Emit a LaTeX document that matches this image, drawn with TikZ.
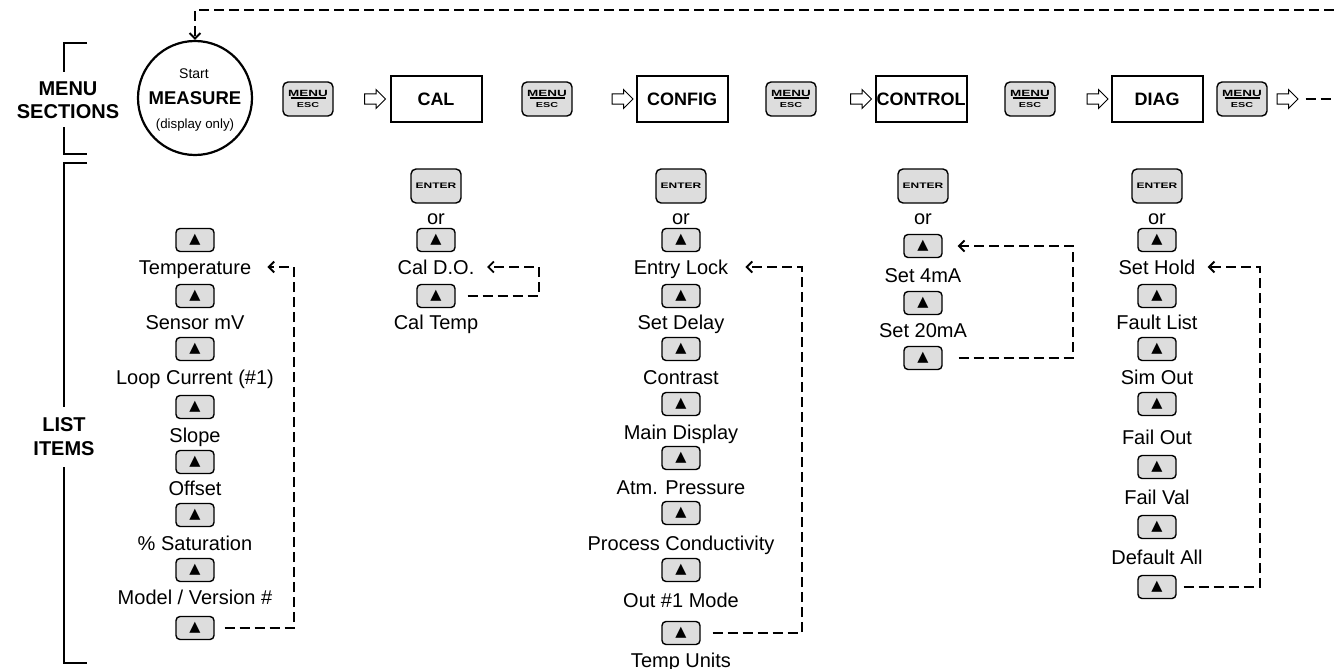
\documentclass[tikz,border=0pt]{standalone}
\usepackage{fontspec}
\setmainfont{Liberation Sans}
\newfontfamily\symfont{DejaVu Sans}
\usepackage{graphicx}
\usetikzlibrary{arrows.meta,positioning,shapes.arrows}
\definecolor{ckey}{RGB}{221,221,221}

% wide bold lettering on the keypad keys
\newcommand{\keytext}[2]{\scalebox{1.5}[1]{\bfseries\fontsize{#1}{#1}\selectfont #2}}
\newcommand{\menuesc}{\keytext{9}{MENU}\\[-3.9pt]\rule{35pt}{2pt}\\[3pt]\keytext{7.2}{ESC}}

\begin{document}
\begin{tikzpicture}[
  x=1pt, y=-1pt,
  key/.style={draw, line width=1.4pt, fill=ckey, rounded corners=5pt, inner sep=0pt},
  menukey/.style={key, minimum width=50pt, minimum height=34pt, align=center, font=\fontsize{6}{6}\selectfont},
  enterkey/.style={key, minimum width=50pt, minimum height=34pt},
  upkey/.style={key, minimum width=38pt, minimum height=23pt, rounded corners=4pt, font=\symfont\fontsize{14.5}{14.5}\selectfont},
  item/.style={font=\fontsize{20}{22}\selectfont, inner sep=0pt, text height=14pt, text depth=0pt},
  secbox/.style={draw, line width=2pt, minimum width=91pt, minimum height=46pt, inner sep=1pt, font=\bfseries\fontsize{18}{20}\selectfont},
  nextar/.style={single arrow, draw, line width=1pt, inner xsep=0pt, inner ysep=4.5pt, minimum height=21pt, single arrow head extend=4.5pt},
  loopline/.style={dash pattern=on 10pt off 5pt, line width=1.9pt, -{Straight Barb[length=5.5pt,width=11pt]}},
  bracket/.style={line width=2.2pt},
  side/.style={font=\bfseries\fontsize{20}{23}\selectfont, align=center, inner sep=0pt},
]
\useasboundingbox (0,0) rectangle (1334,669);

% --- side labels and brackets ---
\node[side] (secl) at (68,100) {MENU\\SECTIONS};
\node[side, font=\bfseries\fontsize{20}{24}\selectfont] (listl) at (64,437) {LIST\\ITEMS};
\draw[bracket] (87,43) -- (64,43) -- (64,72);
\draw[bracket] (64,127) -- (64,154) -- (87,154);
\draw[bracket] (87,163) -- (64,163) -- (64,407);
\draw[bracket] (64,467) -- (64,663) -- (87,663);

% --- menu sections (top row) ---
\node[draw, circle, line width=2.2pt, minimum size=114pt, inner sep=0pt,
      font=\bfseries\fontsize{18.5}{20}\selectfont, text height=13pt, text depth=0pt] (meas) at (195,98) {MEASURE};
\node[font=\fontsize{14}{15}\selectfont, inner sep=0pt, text height=10pt, text depth=0pt] (mstart) at (194,73) {Start};
\node[font=\fontsize{13.3}{14}\selectfont, inner sep=0pt, text height=9.5pt, text depth=3pt] (mdisp) at (195,125) {(display only)};

\node[menukey] (k1) at (308,99) {\menuesc};
\node[nextar] (a1) at (372.5,99) {};
\node[secbox] (cal) at (436,99) {CAL};
\node[menukey] (k2) at (547,99) {\menuesc};
\node[nextar] (a2) at (620,99) {};
\node[secbox] (config) at (682,99) {CONFIG};
\node[menukey] (k3) at (791,99) {\menuesc};
\node[nextar] (a3) at (858.5,99) {};
\node[secbox] (control) at (921,99) {CONTROL};
\node[menukey] (k4) at (1030,99) {\menuesc};
\node[nextar] (a4) at (1095,99) {};
\node[secbox] (diag) at (1157,99) {DIAG};
\node[menukey] (k5) at (1242,99) {\menuesc};
\node[nextar] (a5) at (1285,99) {};

\coordinate (tail) at (1334,99);
\coordinate (ret) at (1334,10);
\draw[dash pattern=on 10pt off 5pt, line width=1.9pt, shorten <=7pt] (a5.east) -- (tail);
\draw[loopline] (ret) -| (meas.north);

% --- MEASURE list ---
\node[upkey] (mk1) at (195,240) {▲};
\node[item] (ml1) at (195,267) {Temperature};
\node[upkey] (mk2) at (195,296) {▲};
\node[item] (ml2) at (195,322) {Sensor mV};
\node[upkey] (mk3) at (195,349) {▲};
\node[item] (ml3) at (195,377) {Loop Current (\#1)};
\node[upkey] (mk4) at (195,407) {▲};
\node[item] (ml4) at (195,435) {Slope};
\node[upkey] (mk5) at (195,462) {▲};
\node[item] (ml5) at (195,488) {Offset};
\node[upkey] (mk6) at (195,515) {▲};
\node[item] (ml6) at (195,543) {\% Saturation};
\node[upkey] (mk7) at (195,570) {▲};
\node[item] (ml7) at (195,597) {Model / Version \#};
\node[upkey] (mk8) at (195,628) {▲};
\draw[loopline, shorten <=10pt, shorten >=16pt] (mk8.east) -- ++(79,0) |- (ml1.east);

% --- CAL list ---
\node[enterkey] (ce) at (436,186) {\keytext{8}{ENTER}};
\node[item] (cor) at (436,217) {or};
\node[upkey] (ck1) at (436,240) {▲};
\node[item] (cl1) at (436,267) {Cal D.O.};
\node[upkey] (ck2) at (436,296) {▲};
\node[item] (cl2) at (436,322) {Cal Temp};
\draw[loopline, shorten <=12pt, shorten >=12.5pt] (ck2.east) -- ++(83,0) |- (cl1.east);

% --- CONFIG list ---
\node[enterkey] (fe) at (681,186) {\keytext{8}{ENTER}};
\node[item] (for) at (681,217) {or};
\node[upkey] (fk1) at (681,240) {▲};
\node[item] (fl1) at (681,267) {Entry Lock};
\node[upkey] (fk2) at (681,296) {▲};
\node[item] (fl2) at (681,322) {Set Delay};
\node[upkey] (fk3) at (681,349) {▲};
\node[item] (fl3) at (681,377) {Contrast};
\node[upkey] (fk4) at (681,404) {▲};
\node[item] (fl4) at (681,432) {Main Display};
\node[upkey] (fk5) at (681,458) {▲};
\node[item] (fl5) at (681,487) {Atm. Pressure};
\node[upkey] (fk6) at (681,513) {▲};
\node[item] (fl6) at (681,543) {Process Conductivity};
\node[upkey] (fk7) at (681,570) {▲};
\node[item] (fl7) at (681,600) {Out \#1 Mode};
\node[upkey] (fk8) at (681,633) {▲};
\node[item] (fl8) at (681,660) {Temp Units};
\draw[loopline, shorten <=12pt, shorten >=17pt] (fk8.east) -- ++(101,0) |- (fl1.east);

% --- CONTROL list ---
\node[enterkey] (te) at (923,186) {\keytext{8}{ENTER}};
\node[item] (tor) at (923,217) {or};
\node[upkey] (tk1) at (923,246) {▲};
\node[item] (tl1) at (923,275) {Set 4mA};
\node[upkey] (tk2) at (923,303) {▲};
\node[item] (tl2) at (923,330) {Set 20mA};
\node[upkey] (tk3) at (923,358) {▲};
\draw[loopline, shorten <=16pt, shorten >=15pt] (tk3.east) -- ++(130,0) |- (tk1.east);

% --- DIAG list ---
\node[enterkey] (de) at (1157,186) {\keytext{8}{ENTER}};
\node[item] (dor) at (1157,217) {or};
\node[upkey] (dk1) at (1157,240) {▲};
\node[item] (dl1) at (1157,267) {Set Hold};
\node[upkey] (dk2) at (1157,296) {▲};
\node[item] (dl2) at (1157,322) {Fault List};
\node[upkey] (dk3) at (1157,349) {▲};
\node[item] (dl3) at (1157,377) {Sim Out};
\node[upkey] (dk4) at (1157,404) {▲};
\node[item] (dl4) at (1157,437) {Fail Out};
\node[upkey] (dk5) at (1157,467) {▲};
\node[item] (dl5) at (1157,497) {Fail Val};
\node[upkey] (dk6) at (1157,527) {▲};
\node[item] (dl6) at (1157,557) {Default All};
\node[upkey] (dk7) at (1157,587) {▲};
\draw[loopline, shorten <=7pt, shorten >=12pt] (dk7.east) -- ++(83,0) |- (dl1.east);
\end{tikzpicture}
\end{document}
